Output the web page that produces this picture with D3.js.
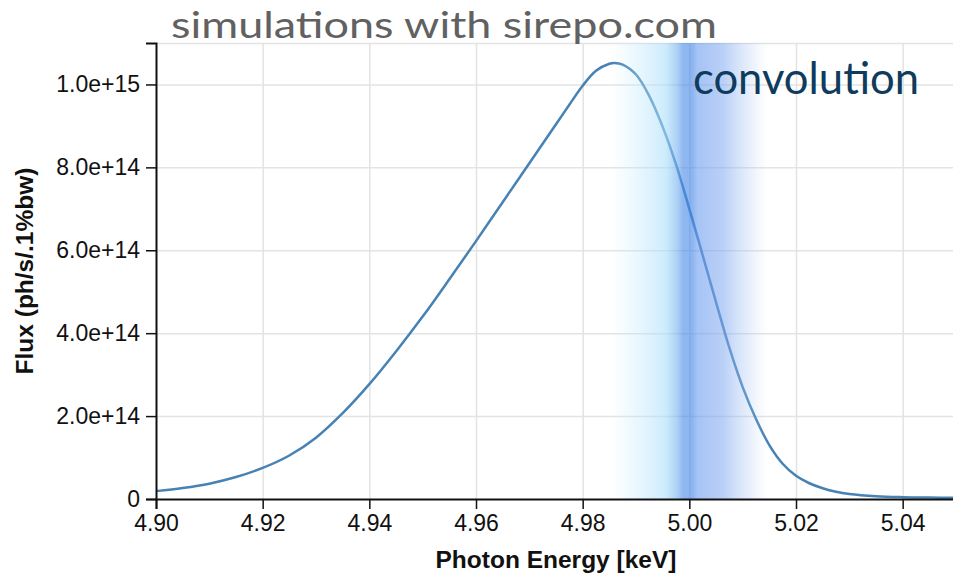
<!DOCTYPE html>
<html>
<head>
<meta charset="utf-8">
<script src="https://cdn.jsdelivr.net/npm/d3@7"></script>
<style>
  html, body { margin: 0; padding: 0; background: #fff; }
  svg { display: block; }
</style>
</head>
<body>
<svg id="chart" width="953" height="577"></svg>
<script>
// Spectral flux vs photon energy (keV)
const energy = [4.900, 4.905, 4.910, 4.915, 4.920, 4.925, 4.930, 4.935, 4.940, 4.945,
                4.950, 4.955, 4.960, 4.965, 4.970, 4.975, 4.9775, 4.980, 4.9825, 4.985,
                4.986, 4.9875, 4.990, 4.9925, 4.995, 4.9975, 5.000, 5.0025, 5.005, 5.0075,
                5.010, 5.0125, 5.015, 5.0175, 5.020, 5.0225, 5.025, 5.0275, 5.030, 5.035,
                5.040, 5.045, 5.050];
const flux = [1.9e13, 2.65e13, 3.7e13, 5.3e13, 7.5e13, 1.05e14, 1.48e14, 2.07e14, 2.77e14, 3.56e14,
              4.40e14, 5.30e14, 6.22e14, 7.16e14, 8.10e14, 9.04e14, 9.51e14, 9.97e14, 1.033e15, 1.050e15,
              1.052e15, 1.048e15, 1.024e15, 9.72e14, 8.98e14, 8.07e14, 7.00e14, 5.88e14, 4.75e14, 3.65e14,
              2.70e14, 1.93e14, 1.30e14, 8.5e13, 5.6e13, 3.8e13, 2.6e13, 1.75e13, 1.22e13, 6.8e12,
              4.5e12, 3.5e12, 3.0e12];

const xTickValues = [4.90, 4.92, 4.94, 4.96, 4.98, 5.00, 5.02, 5.04];
const yTickValues = [0, 2e14, 4e14, 6e14, 8e14, 1e15];
const xDomain = [4.90, 5.05];
const yDomain = [0, 1.1e15];

// Energy window of the convolution highlight
const bandRange = [4.9853, 5.0147];

const titleText = "simulations with sirepo.com";
const bandText = "convolution";
const xTitle = "Photon Energy [keV]";
const yTitle = "Flux (ph/s/.1%bw)";

const svg = d3.select("#chart");
const margin = { left: 156, top: 43 };
const width = 800, height = 456;

const x = d3.scaleLinear().domain(xDomain).range([0, width]);
const y = d3.scaleLinear().domain(yDomain).range([height, 0]);

svg.append("rect").attr("width", 953).attr("height", 577).attr("fill", "#fff");

const g = svg.append("g").attr("transform", `translate(${margin.left},${margin.top})`);

// grid
const grid = g.append("g").attr("stroke", "#e3e3e3").attr("stroke-width", 1.5);
grid.selectAll("line.v").data(xTickValues.slice(1)).join("line")
  .attr("x1", d => x(d) + 0.5).attr("x2", d => x(d) + 0.5)
  .attr("y1", 0).attr("y2", height);
grid.selectAll("line.h").data(yTickValues.slice(1).concat([yDomain[1]])).join("line")
  .attr("x1", 0).attr("x2", width)
  .attr("y1", d => y(d) + 0.5).attr("y2", d => y(d) + 0.5);

// spectrum
const line = d3.line()
  .x((d, i) => x(energy[i]))
  .y(d => y(d))
  .curve(d3.curveCatmullRom.alpha(0.5));
g.append("path")
  .datum(flux)
  .attr("fill", "none")
  .attr("stroke", "#4682b4")
  .attr("stroke-width", 2.5)
  .attr("d", line);

// convolution window: translucent gradient over the curve
const defs = svg.append("defs");
const grad = defs.append("linearGradient")
  .attr("id", "bandGrad")
  .attr("x1", "0%").attr("x2", "100%").attr("y1", "0%").attr("y2", "0%");
const stops = [
  [0.00, "rgb(200,235,252)", 0.0],
  [0.15, "rgb(190,232,252)", 0.3],
  [0.35, "rgb(170,222,250)", 0.6],
  [0.42, "rgb(120,180,240)", 0.6],
  [0.46, "rgb(75,140,232)", 0.62],
  [0.52, "rgb(70,135,232)", 0.62],
  [0.55, "rgb(105,155,238)", 0.6],
  [0.72, "rgb(130,170,240)", 0.55],
  [0.87, "rgb(165,195,244)", 0.3],
  [1.00, "rgb(190,210,248)", 0.0]
];
grad.selectAll("stop").data(stops).join("stop")
  .attr("offset", d => d[0])
  .attr("stop-color", d => d[1])
  .attr("stop-opacity", d => d[2]);

g.append("rect")
  .attr("x", x(bandRange[0]))
  .attr("width", x(bandRange[1]) - x(bandRange[0]))
  .attr("y", 0)
  .attr("height", height)
  .attr("fill", "url(#bandGrad)");

// axes
const fmtY = d => d === 0 ? "0" : d3.format(".1e")(d);
const xAxis = g.append("g")
  .attr("transform", `translate(0,${height})`)
  .call(d3.axisBottom(x).tickValues(xTickValues).tickFormat(d3.format(".2f"))
        .tickSize(10).tickSizeOuter(10).tickPadding(6));
const yAxis = g.append("g")
  .call(d3.axisLeft(y).tickValues(yTickValues).tickFormat(fmtY)
        .tickSize(10).tickSizeOuter(10).tickPadding(6));

[xAxis, yAxis].forEach(a => {
  a.selectAll("path.domain").attr("stroke", "#111").attr("stroke-width", 2);
  a.selectAll(".tick line").attr("stroke", "#111").attr("stroke-width", 1.5);
  a.selectAll(".tick text")
    .attr("fill", "#111")
    .style("font-family", "'Liberation Sans', Arial, Helvetica, sans-serif")
    .style("font-size", "23px");
});

// axis titles
svg.append("text")
  .attr("x", margin.left + width / 2)
  .attr("y", 568)
  .attr("text-anchor", "middle")
  .style("font-family", "'Liberation Sans', Arial, Helvetica, sans-serif")
  .style("font-weight", "bold")
  .style("font-size", "24.5px")
  .attr("fill", "#111")
  .text(xTitle);

svg.append("text")
  .attr("transform", `translate(33,${margin.top + height / 2}) rotate(-90)`)
  .attr("text-anchor", "middle")
  .style("font-family", "'Liberation Sans', Arial, Helvetica, sans-serif")
  .style("font-weight", "bold")
  .style("font-size", "24.5px")
  .attr("fill", "#111")
  .text(yTitle);

// headline and window label
svg.append("text")
  .attr("x", 171)
  .attr("y", 37.5)
  .attr("textLength", 546)
  .attr("lengthAdjust", "spacingAndGlyphs")
  .style("font-family", "Lato, 'Open Sans', sans-serif")
  .style("font-size", "37.5px")
  .attr("fill", "#616161")
  .text(titleText);

svg.append("text")
  .attr("x", 693)
  .attr("y", 94)
  .attr("textLength", 226)
  .attr("lengthAdjust", "spacingAndGlyphs")
  .style("font-family", "Lato, 'Open Sans', sans-serif")
  .style("font-size", "45px")
  .attr("fill", "#0f3b5d")
  .text(bandText);
</script>
</body>
</html>
